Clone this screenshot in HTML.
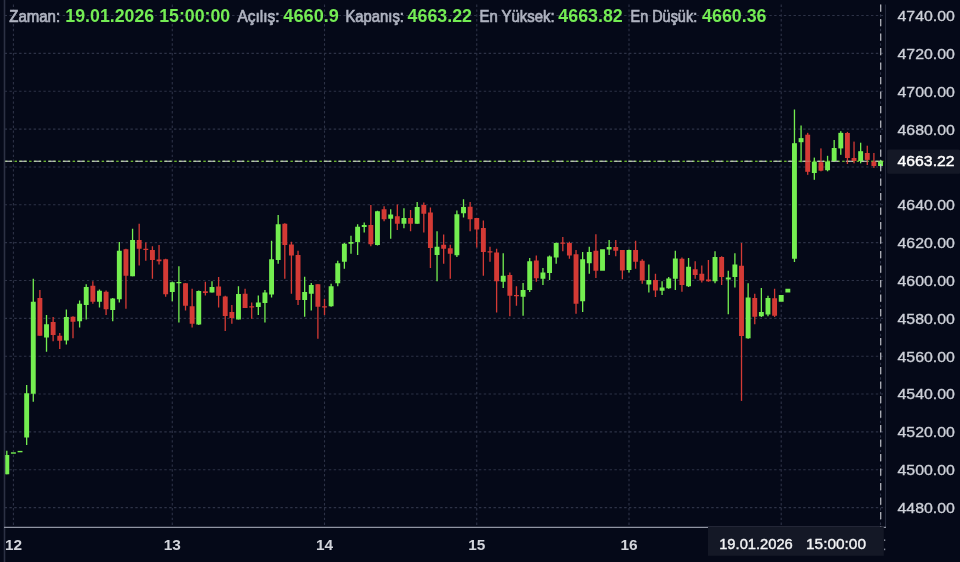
<!DOCTYPE html>
<html><head><meta charset="utf-8"><title>Chart</title>
<style>
html,body{margin:0;padding:0;background:#050918;}
body{width:960px;height:562px;overflow:hidden;font-family:"Liberation Sans",sans-serif;}
svg{display:block;}
svg text{font-family:"Liberation Sans",sans-serif;}
</style></head><body>
<svg width="960" height="562" viewBox="0 0 960 562" style="filter:blur(0.45px)">
<rect x="0" y="0" width="960" height="562" fill="#050918"/>
<g stroke="#2d3246" stroke-width="1.1" stroke-dasharray="2.42 2.42" fill="none">
<line x1="4.6" y1="15.55" x2="885.5" y2="15.55"/>
<line x1="4.6" y1="53.4" x2="885.5" y2="53.4"/>
<line x1="4.6" y1="91.25" x2="885.5" y2="91.25"/>
<line x1="4.6" y1="129.1" x2="885.5" y2="129.1"/>
<line x1="4.6" y1="166.95" x2="885.5" y2="166.95"/>
<line x1="4.6" y1="204.8" x2="885.5" y2="204.8"/>
<line x1="4.6" y1="242.65" x2="885.5" y2="242.65"/>
<line x1="4.6" y1="280.5" x2="885.5" y2="280.5"/>
<line x1="4.6" y1="318.35" x2="885.5" y2="318.35"/>
<line x1="4.6" y1="356.2" x2="885.5" y2="356.2"/>
<line x1="4.6" y1="394.05" x2="885.5" y2="394.05"/>
<line x1="4.6" y1="431.9" x2="885.5" y2="431.9"/>
<line x1="4.6" y1="469.75" x2="885.5" y2="469.75"/>
<line x1="4.6" y1="507.6" x2="885.5" y2="507.6"/>
<line x1="13.42" y1="4.6" x2="13.42" y2="527.4"/>
<line x1="172.28" y1="4.6" x2="172.28" y2="527.4"/>
<line x1="324.51" y1="4.6" x2="324.51" y2="527.4"/>
<line x1="476.75" y1="4.6" x2="476.75" y2="527.4"/>
<line x1="628.99" y1="4.6" x2="628.99" y2="527.4"/>
<line x1="781.22" y1="4.6" x2="781.22" y2="527.4"/>
<line x1="880.51" y1="4.6" x2="880.51" y2="527.4"/>
</g>
<g opacity="1"><line x1="4.8" y1="161.2" x2="885.5" y2="161.2" stroke="#80dc34" stroke-width="1.1" stroke-dasharray="2.42 2.42" stroke-dashoffset="-0.1"/><line x1="4.8" y1="161.2" x2="885.5" y2="161.2" stroke="#d2d3d8" stroke-opacity="0.93" stroke-width="1.1" stroke-dasharray="7.25 7.25"/></g>
<g fill="#74ee50">
<rect x="6.15" y="450.75" width="1.3" height="23.5"/>
<rect x="26.01" y="385" width="1.3" height="60"/>
<rect x="32.63" y="278.75" width="1.3" height="123"/>
<rect x="45.86" y="315" width="1.3" height="36.75"/>
<rect x="65.72" y="309.5" width="1.3" height="35"/>
<rect x="78.96" y="300.5" width="1.3" height="27"/>
<rect x="85.58" y="284.25" width="1.3" height="35.25"/>
<rect x="98.82" y="289.5" width="1.3" height="18"/>
<rect x="112.05" y="298" width="1.3" height="23.25"/>
<rect x="118.67" y="242" width="1.3" height="60.5"/>
<rect x="131.91" y="228.75" width="1.3" height="47.5"/>
<rect x="171.62" y="281.75" width="1.3" height="19.5"/>
<rect x="178.24" y="266.25" width="1.3" height="56.25"/>
<rect x="198.1" y="290.5" width="1.3" height="34.5"/>
<rect x="211.34" y="281.25" width="1.3" height="11.25"/>
<rect x="237.81" y="286.25" width="1.3" height="33.25"/>
<rect x="257.67" y="295.5" width="1.3" height="19.5"/>
<rect x="264.29" y="290" width="1.3" height="32.5"/>
<rect x="270.91" y="240.75" width="1.3" height="56.75"/>
<rect x="277.53" y="215" width="1.3" height="48.75"/>
<rect x="304.01" y="276.75" width="1.3" height="40"/>
<rect x="310.62" y="283" width="1.3" height="27.5"/>
<rect x="330.48" y="283.75" width="1.3" height="23"/>
<rect x="337.1" y="260.75" width="1.3" height="25.5"/>
<rect x="343.72" y="243" width="1.3" height="25.75"/>
<rect x="350.34" y="235.75" width="1.3" height="18"/>
<rect x="356.96" y="224.25" width="1.3" height="30.75"/>
<rect x="363.58" y="222.5" width="1.3" height="10"/>
<rect x="376.81" y="210.75" width="1.3" height="34.75"/>
<rect x="390.05" y="209.25" width="1.3" height="29.5"/>
<rect x="403.29" y="208.25" width="1.3" height="20"/>
<rect x="416.53" y="202" width="1.3" height="21.75"/>
<rect x="436.39" y="231.25" width="1.3" height="50"/>
<rect x="456.24" y="210.5" width="1.3" height="46.5"/>
<rect x="462.86" y="199.25" width="1.3" height="18.25"/>
<rect x="502.57" y="253.25" width="1.3" height="34.75"/>
<rect x="522.43" y="283" width="1.3" height="32.75"/>
<rect x="529.05" y="258" width="1.3" height="34"/>
<rect x="542.29" y="268" width="1.3" height="17"/>
<rect x="548.91" y="255.5" width="1.3" height="24.5"/>
<rect x="555.53" y="242.5" width="1.3" height="21.25"/>
<rect x="582" y="252" width="1.3" height="60"/>
<rect x="588.62" y="246.75" width="1.3" height="27"/>
<rect x="608.48" y="240" width="1.3" height="15"/>
<rect x="628.34" y="249.5" width="1.3" height="23"/>
<rect x="648.19" y="264.5" width="1.3" height="28"/>
<rect x="661.43" y="281.25" width="1.3" height="13.75"/>
<rect x="668.05" y="277" width="1.3" height="11.75"/>
<rect x="674.67" y="250.75" width="1.3" height="39.25"/>
<rect x="687.91" y="258" width="1.3" height="29"/>
<rect x="714.38" y="251.25" width="1.3" height="32"/>
<rect x="727.62" y="270.75" width="1.3" height="43.5"/>
<rect x="734.24" y="253.25" width="1.3" height="34.25"/>
<rect x="747.48" y="283.25" width="1.3" height="55.5"/>
<rect x="760.72" y="288" width="1.3" height="29"/>
<rect x="767.33" y="295.75" width="1.3" height="20.5"/>
<rect x="793.81" y="109.5" width="1.3" height="152.5"/>
<rect x="800.43" y="125.5" width="1.3" height="36.7"/>
<rect x="813.67" y="157.6" width="1.3" height="22.2"/>
<rect x="826.91" y="155.8" width="1.3" height="15.5"/>
<rect x="833.52" y="140" width="1.3" height="21.5"/>
<rect x="840.14" y="131.2" width="1.3" height="23.6"/>
<rect x="860" y="142.7" width="1.3" height="20.6"/>
<rect x="879.86" y="159.9" width="1.3" height="6.6"/>
<rect x="4.35" y="455" width="4.9" height="19.25"/>
<rect x="10.97" y="452.3" width="4.9" height="1.4"/>
<rect x="17.59" y="450.9" width="4.9" height="1.4"/>
<rect x="24.21" y="393.25" width="4.9" height="44.25"/>
<rect x="30.83" y="301.75" width="4.9" height="92"/>
<rect x="44.06" y="324.25" width="4.9" height="13.25"/>
<rect x="63.92" y="317" width="4.9" height="23.5"/>
<rect x="77.16" y="303.75" width="4.9" height="17.5"/>
<rect x="83.78" y="287" width="4.9" height="18"/>
<rect x="97.02" y="290.75" width="4.9" height="11"/>
<rect x="110.25" y="298.5" width="4.9" height="11.5"/>
<rect x="116.87" y="250.75" width="4.9" height="48.5"/>
<rect x="130.11" y="240" width="4.9" height="36.25"/>
<rect x="169.83" y="282.25" width="4.9" height="9.75"/>
<rect x="176.44" y="282" width="4.9" height="1.25"/>
<rect x="196.3" y="291" width="4.9" height="33.5"/>
<rect x="209.54" y="287" width="4.9" height="5.5"/>
<rect x="236.02" y="294" width="4.9" height="25.5"/>
<rect x="255.87" y="302.5" width="4.9" height="4.5"/>
<rect x="262.49" y="292.5" width="4.9" height="10.5"/>
<rect x="269.11" y="259.25" width="4.9" height="35.25"/>
<rect x="275.73" y="224.25" width="4.9" height="35.75"/>
<rect x="302.21" y="292" width="4.9" height="8"/>
<rect x="308.82" y="285" width="4.9" height="8.75"/>
<rect x="328.68" y="286.25" width="4.9" height="20"/>
<rect x="335.3" y="263.25" width="4.9" height="20"/>
<rect x="341.92" y="243.75" width="4.9" height="18"/>
<rect x="348.54" y="242" width="4.9" height="1.75"/>
<rect x="355.16" y="226.75" width="4.9" height="15.25"/>
<rect x="361.78" y="225" width="4.9" height="2"/>
<rect x="375.01" y="211.25" width="4.9" height="33.75"/>
<rect x="388.25" y="214.5" width="4.9" height="4.25"/>
<rect x="401.49" y="218" width="4.9" height="5.75"/>
<rect x="414.73" y="207" width="4.9" height="16.75"/>
<rect x="434.59" y="246.75" width="4.9" height="8.25"/>
<rect x="454.44" y="214.25" width="4.9" height="41"/>
<rect x="461.06" y="207" width="4.9" height="6.25"/>
<rect x="500.77" y="275.75" width="4.9" height="6"/>
<rect x="520.63" y="290" width="4.9" height="6.75"/>
<rect x="527.25" y="261.25" width="4.9" height="28.75"/>
<rect x="540.49" y="272.5" width="4.9" height="6.25"/>
<rect x="547.11" y="256.5" width="4.9" height="16.5"/>
<rect x="553.73" y="243" width="4.9" height="14.5"/>
<rect x="580.2" y="259.25" width="4.9" height="42"/>
<rect x="586.82" y="252" width="4.9" height="11.25"/>
<rect x="600.06" y="249.25" width="4.9" height="21.5"/>
<rect x="606.68" y="247" width="4.9" height="2.5"/>
<rect x="626.54" y="250" width="4.9" height="20"/>
<rect x="646.39" y="280" width="4.9" height="4.5"/>
<rect x="659.63" y="287.5" width="4.9" height="3.25"/>
<rect x="666.25" y="278.5" width="4.9" height="9.75"/>
<rect x="672.87" y="258.5" width="4.9" height="20.25"/>
<rect x="686.11" y="266.75" width="4.9" height="19.5"/>
<rect x="712.58" y="257" width="4.9" height="24.25"/>
<rect x="725.82" y="277.5" width="4.9" height="2"/>
<rect x="732.44" y="264.5" width="4.9" height="12.5"/>
<rect x="745.68" y="297.5" width="4.9" height="40.8"/>
<rect x="758.92" y="312" width="4.9" height="4.25"/>
<rect x="765.53" y="298" width="4.9" height="16.5"/>
<rect x="778.77" y="295" width="4.9" height="6.75"/>
<rect x="785.39" y="288.75" width="4.9" height="3.75"/>
<rect x="792.01" y="143.2" width="4.9" height="115.55"/>
<rect x="798.63" y="138.1" width="4.9" height="4.1"/>
<rect x="811.87" y="161.7" width="4.9" height="11.3"/>
<rect x="825.11" y="161.5" width="4.9" height="8.7"/>
<rect x="831.72" y="148" width="4.9" height="13"/>
<rect x="838.34" y="132.85" width="4.9" height="15.55"/>
<rect x="858.2" y="151.2" width="4.9" height="9.8"/>
<rect x="878.06" y="161.25" width="4.9" height="4.75"/>
</g>
<g fill="#d43a35">
<rect x="39.24" y="290" width="1.3" height="45.75"/>
<rect x="52.48" y="317" width="1.3" height="24.25"/>
<rect x="59.1" y="333" width="1.3" height="16"/>
<rect x="72.34" y="316.25" width="1.3" height="22"/>
<rect x="92.2" y="281.25" width="1.3" height="22.5"/>
<rect x="105.43" y="290.5" width="1.3" height="24.5"/>
<rect x="125.29" y="248.75" width="1.3" height="60"/>
<rect x="138.53" y="223.75" width="1.3" height="41.75"/>
<rect x="145.15" y="242.5" width="1.3" height="18.25"/>
<rect x="151.77" y="246.25" width="1.3" height="32.5"/>
<rect x="158.39" y="245" width="1.3" height="19.5"/>
<rect x="165.01" y="258.75" width="1.3" height="38"/>
<rect x="184.86" y="283" width="1.3" height="27.5"/>
<rect x="191.48" y="288.75" width="1.3" height="38.75"/>
<rect x="204.72" y="281.75" width="1.3" height="13.75"/>
<rect x="217.96" y="277" width="1.3" height="30.5"/>
<rect x="224.58" y="295.75" width="1.3" height="35.25"/>
<rect x="231.2" y="305" width="1.3" height="18.75"/>
<rect x="244.43" y="288.75" width="1.3" height="19.25"/>
<rect x="251.05" y="302.5" width="1.3" height="16.25"/>
<rect x="284.15" y="223.25" width="1.3" height="55.5"/>
<rect x="290.77" y="241.75" width="1.3" height="52"/>
<rect x="297.39" y="250.75" width="1.3" height="54.25"/>
<rect x="317.24" y="284.25" width="1.3" height="54.5"/>
<rect x="323.86" y="298.75" width="1.3" height="16.25"/>
<rect x="370.19" y="205" width="1.3" height="41.25"/>
<rect x="383.43" y="206.25" width="1.3" height="15"/>
<rect x="396.67" y="204.5" width="1.3" height="25.5"/>
<rect x="409.91" y="210" width="1.3" height="21.25"/>
<rect x="423.15" y="202.5" width="1.3" height="30"/>
<rect x="429.77" y="207.5" width="1.3" height="60.5"/>
<rect x="443" y="234.5" width="1.3" height="29.25"/>
<rect x="449.62" y="244.75" width="1.3" height="34"/>
<rect x="469.48" y="202" width="1.3" height="29.25"/>
<rect x="476.1" y="218" width="1.3" height="29.5"/>
<rect x="482.72" y="220.5" width="1.3" height="55.25"/>
<rect x="489.34" y="246.75" width="1.3" height="15"/>
<rect x="495.96" y="248.75" width="1.3" height="63.75"/>
<rect x="509.19" y="272.5" width="1.3" height="43.75"/>
<rect x="515.81" y="286.25" width="1.3" height="19.5"/>
<rect x="535.67" y="255.5" width="1.3" height="26.25"/>
<rect x="562.15" y="237" width="1.3" height="14.25"/>
<rect x="568.76" y="241.75" width="1.3" height="17"/>
<rect x="575.38" y="250" width="1.3" height="63.75"/>
<rect x="595.24" y="234.25" width="1.3" height="43.75"/>
<rect x="615.1" y="240" width="1.3" height="16.25"/>
<rect x="621.72" y="250" width="1.3" height="29.25"/>
<rect x="634.95" y="240.75" width="1.3" height="28"/>
<rect x="641.57" y="259.25" width="1.3" height="24.5"/>
<rect x="654.81" y="273.75" width="1.3" height="23.25"/>
<rect x="681.29" y="257.5" width="1.3" height="34.25"/>
<rect x="694.53" y="261.25" width="1.3" height="17.5"/>
<rect x="701.14" y="265.5" width="1.3" height="17"/>
<rect x="707.76" y="260" width="1.3" height="21.75"/>
<rect x="721" y="256.25" width="1.3" height="28.75"/>
<rect x="740.86" y="243" width="1.3" height="157.9"/>
<rect x="754.1" y="293.75" width="1.3" height="30.5"/>
<rect x="773.95" y="288.75" width="1.3" height="28.25"/>
<rect x="807.05" y="132.85" width="1.3" height="41.95"/>
<rect x="820.29" y="148.4" width="1.3" height="22.9"/>
<rect x="846.76" y="131.9" width="1.3" height="32.1"/>
<rect x="853.38" y="141.6" width="1.3" height="21.7"/>
<rect x="866.62" y="145.7" width="1.3" height="19.3"/>
<rect x="873.24" y="153" width="1.3" height="14.9"/>
<rect x="37.44" y="298" width="4.9" height="37.75"/>
<rect x="50.68" y="322" width="4.9" height="13"/>
<rect x="57.3" y="335.75" width="4.9" height="5"/>
<rect x="70.54" y="316.75" width="4.9" height="5"/>
<rect x="90.4" y="285.75" width="4.9" height="16"/>
<rect x="103.63" y="291.75" width="4.9" height="17.5"/>
<rect x="123.49" y="249.25" width="4.9" height="26.5"/>
<rect x="136.73" y="240" width="4.9" height="8.75"/>
<rect x="143.35" y="248.75" width="4.9" height="1.25"/>
<rect x="149.97" y="250" width="4.9" height="10"/>
<rect x="156.59" y="259.5" width="4.9" height="1.75"/>
<rect x="163.21" y="259.25" width="4.9" height="35"/>
<rect x="183.06" y="283.25" width="4.9" height="22.5"/>
<rect x="189.68" y="306.25" width="4.9" height="17.5"/>
<rect x="202.92" y="291.25" width="4.9" height="1.75"/>
<rect x="216.16" y="286.5" width="4.9" height="9.25"/>
<rect x="222.78" y="296.5" width="4.9" height="19.5"/>
<rect x="229.4" y="312" width="4.9" height="6"/>
<rect x="242.63" y="293.75" width="4.9" height="14.25"/>
<rect x="249.25" y="306.25" width="4.9" height="1.25"/>
<rect x="282.35" y="223.75" width="4.9" height="21.25"/>
<rect x="288.97" y="244.5" width="4.9" height="11"/>
<rect x="295.59" y="255" width="4.9" height="45"/>
<rect x="315.44" y="284.25" width="4.9" height="22.5"/>
<rect x="322.06" y="306.25" width="4.9" height="1.25"/>
<rect x="368.39" y="225" width="4.9" height="19.25"/>
<rect x="381.63" y="209.25" width="4.9" height="10"/>
<rect x="394.87" y="216.25" width="4.9" height="7.5"/>
<rect x="408.11" y="218" width="4.9" height="5.75"/>
<rect x="421.35" y="205" width="4.9" height="8.75"/>
<rect x="427.97" y="212.5" width="4.9" height="35.5"/>
<rect x="441.2" y="244.75" width="4.9" height="4"/>
<rect x="447.82" y="248.25" width="4.9" height="5.5"/>
<rect x="467.68" y="206.75" width="4.9" height="12.5"/>
<rect x="474.3" y="218" width="4.9" height="11.5"/>
<rect x="480.92" y="228" width="4.9" height="24"/>
<rect x="487.54" y="251.25" width="4.9" height="1.25"/>
<rect x="494.16" y="252.5" width="4.9" height="28.75"/>
<rect x="507.39" y="275" width="4.9" height="20.75"/>
<rect x="514.01" y="295" width="4.9" height="1.25"/>
<rect x="533.87" y="260.5" width="4.9" height="17.75"/>
<rect x="560.35" y="242.5" width="4.9" height="1.25"/>
<rect x="566.96" y="243" width="4.9" height="12.5"/>
<rect x="573.58" y="254.25" width="4.9" height="49.5"/>
<rect x="593.44" y="250.75" width="4.9" height="20"/>
<rect x="613.3" y="247" width="4.9" height="3.75"/>
<rect x="619.92" y="250" width="4.9" height="20.5"/>
<rect x="633.15" y="250" width="4.9" height="11.75"/>
<rect x="639.77" y="260.75" width="4.9" height="19.75"/>
<rect x="653.01" y="280" width="4.9" height="10.5"/>
<rect x="679.49" y="258.75" width="4.9" height="26.25"/>
<rect x="692.73" y="269.25" width="4.9" height="5.75"/>
<rect x="699.34" y="273.75" width="4.9" height="6.75"/>
<rect x="705.96" y="279.5" width="4.9" height="1.75"/>
<rect x="719.2" y="257" width="4.9" height="20"/>
<rect x="739.06" y="265.75" width="4.9" height="70.25"/>
<rect x="752.3" y="298" width="4.9" height="18.75"/>
<rect x="772.15" y="298.25" width="4.9" height="17.5"/>
<rect x="805.25" y="134.7" width="4.9" height="37.1"/>
<rect x="818.49" y="162.2" width="4.9" height="8.5"/>
<rect x="844.96" y="133" width="4.9" height="25"/>
<rect x="851.58" y="158" width="4.9" height="3"/>
<rect x="864.82" y="153" width="4.9" height="6.9"/>
<rect x="871.44" y="161.5" width="4.9" height="4.5"/>
</g>
<line x1="4.5" y1="0" x2="4.5" y2="562" stroke="#2c3144" stroke-width="1.6"/>
<line x1="885.5" y1="4.6" x2="885.5" y2="527.4" stroke="#252a3c" stroke-width="1.1"/>
<line x1="4" y1="527.4" x2="886" y2="527.4" stroke="#9094a2" stroke-width="1.25"/>
<g opacity="0.3"><line x1="4.8" y1="161.2" x2="885.5" y2="161.2" stroke="#80dc34" stroke-width="1.1" stroke-dasharray="2.42 2.42" stroke-dashoffset="-0.1"/><line x1="4.8" y1="161.2" x2="885.5" y2="161.2" stroke="#d2d3d8" stroke-opacity="0.93" stroke-width="1.1" stroke-dasharray="7.25 7.25"/></g>
<line x1="880.71" y1="4.6" x2="880.71" y2="527.4" stroke="#cdced4" stroke-opacity="0.88" stroke-width="1.25" stroke-dasharray="7.25 7.25"/>
<g fill="#cdd0d8" stroke="#cdd0d8" stroke-width="0.35" font-size="15">
<text x="897.5" y="20.95" textLength="57.4" lengthAdjust="spacingAndGlyphs">4740.00</text>
<text x="897.5" y="58.8" textLength="57.4" lengthAdjust="spacingAndGlyphs">4720.00</text>
<text x="897.5" y="96.65" textLength="57.4" lengthAdjust="spacingAndGlyphs">4700.00</text>
<text x="897.5" y="134.5" textLength="57.4" lengthAdjust="spacingAndGlyphs">4680.00</text>
<text x="897.5" y="172.35" textLength="57.4" lengthAdjust="spacingAndGlyphs">4660.00</text>
<text x="897.5" y="210.2" textLength="57.4" lengthAdjust="spacingAndGlyphs">4640.00</text>
<text x="897.5" y="248.05" textLength="57.4" lengthAdjust="spacingAndGlyphs">4620.00</text>
<text x="897.5" y="285.9" textLength="57.4" lengthAdjust="spacingAndGlyphs">4600.00</text>
<text x="897.5" y="323.75" textLength="57.4" lengthAdjust="spacingAndGlyphs">4580.00</text>
<text x="897.5" y="361.6" textLength="57.4" lengthAdjust="spacingAndGlyphs">4560.00</text>
<text x="897.5" y="399.45" textLength="57.4" lengthAdjust="spacingAndGlyphs">4540.00</text>
<text x="897.5" y="437.3" textLength="57.4" lengthAdjust="spacingAndGlyphs">4520.00</text>
<text x="897.5" y="475.15" textLength="57.4" lengthAdjust="spacingAndGlyphs">4500.00</text>
<text x="897.5" y="513" textLength="57.4" lengthAdjust="spacingAndGlyphs">4480.00</text>
</g>
<rect x="887.2" y="149.6" width="73" height="24.2" rx="1.5" fill="#141826"/>
<text x="897.5" y="166.4" fill="#ffffff" stroke="#ffffff" stroke-width="0.45" font-size="15.3" textLength="57.1" lengthAdjust="spacingAndGlyphs">4663.22</text>
<g fill="#d3d5dc" font-size="15.4" font-weight="bold" text-anchor="middle">
<text x="13.52" y="550">12</text>
<text x="172.38" y="550">13</text>
<text x="324.61" y="550">14</text>
<text x="476.85" y="550">15</text>
<text x="629.09" y="550">16</text>
</g>
<rect x="708" y="526.8" width="175.8" height="29" fill="#141826"/>
<text x="719.2" y="548.7" fill="#f2f3f5" stroke="#f2f3f5" stroke-width="0.4" font-size="15" textLength="73.6" lengthAdjust="spacingAndGlyphs">19.01.2026</text>
<text x="806" y="548.7" fill="#f2f3f5" stroke="#f2f3f5" stroke-width="0.4" font-size="15" textLength="60" lengthAdjust="spacingAndGlyphs">15:00:00</text>
<rect x="884.2" y="539.4" width="1" height="1.6" fill="#a9acb8"/><rect x="884.2" y="548.6" width="1" height="1.6" fill="#a9acb8"/>
<text x="9.25" y="21.6" fill="#afb3c0" stroke="#afb3c0" stroke-width="0.7" font-size="16.6" textLength="50.9" lengthAdjust="spacingAndGlyphs">Zaman:</text>
<text x="65.35" y="21.7" fill="#74ec54" font-size="19" font-weight="bold" textLength="164.9" lengthAdjust="spacingAndGlyphs">19.01.2026 15:00:00</text>
<text x="237.5" y="21.6" fill="#afb3c0" stroke="#afb3c0" stroke-width="0.7" font-size="16.6" textLength="42.15" lengthAdjust="spacingAndGlyphs">Açılış:</text>
<text x="283.35" y="21.7" fill="#74ec54" font-size="19" font-weight="bold" textLength="55.65" lengthAdjust="spacingAndGlyphs">4660.9</text>
<text x="345.5" y="21.6" fill="#afb3c0" stroke="#afb3c0" stroke-width="0.7" font-size="16.6" textLength="58.4" lengthAdjust="spacingAndGlyphs">Kapanış:</text>
<text x="407.6" y="21.7" fill="#74ec54" font-size="19" font-weight="bold" textLength="64.4" lengthAdjust="spacingAndGlyphs">4663.22</text>
<text x="479.5" y="21.6" fill="#afb3c0" stroke="#afb3c0" stroke-width="0.7" font-size="16.6" textLength="75.15" lengthAdjust="spacingAndGlyphs">En Yüksek:</text>
<text x="558.35" y="21.7" fill="#74ec54" font-size="19" font-weight="bold" textLength="64.4" lengthAdjust="spacingAndGlyphs">4663.82</text>
<text x="630.5" y="21.6" fill="#afb3c0" stroke="#afb3c0" stroke-width="0.7" font-size="16.6" textLength="66.65" lengthAdjust="spacingAndGlyphs">En Düşük:</text>
<text x="702.1" y="21.7" fill="#74ec54" font-size="19" font-weight="bold" textLength="64.4" lengthAdjust="spacingAndGlyphs">4660.36</text>
</svg>
</body></html>
